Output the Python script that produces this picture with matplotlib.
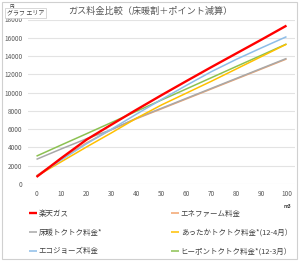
"""Gas price comparison chart (floor heating discount + point deduction)."""

import matplotlib
matplotlib.use("Agg")
import matplotlib.pyplot as plt
from matplotlib.patches import Rectangle

plt.rcParams["font.family"] = ["Noto Sans CJK JP", "DejaVu Sans"]

# ---------------------------------------------------------------------------
# Data (yen vs m3)
# ---------------------------------------------------------------------------
usage = [0, 10, 20, 30, 40, 50, 60, 70, 80, 90, 100]

rakuten = [770, 2850, 4850, 6500, 8130, 9720, 11270, 12800, 14300, 15800, 17330]
enefarm = [900, 2750, 4500, 5950, 7150, 8230, 9320, 10410, 11500, 12590, 13680]
yukadan = [2700, 3850, 4950, 5950, 7200, 8290, 9380, 10470, 11560, 12650, 13740]
attaka = [850, 2450, 4050, 5600, 7200, 8650, 9950, 11250, 12600, 13950, 15300]
ecojozu = [850, 2650, 4400, 6000, 7650, 9250, 10800, 12300, 13650, 14900, 16120]
hipon = [3050, 4280, 5500, 6730, 7960, 9190, 10410, 11640, 12870, 14090, 15320]

series = [
    ("楽天ガス", rakuten, "#FF0000", 1.7),
    ("エネファーム料金", enefarm, "#F2A46E", 1.1),
    ("床暖トクトク料金*", yukadan, "#A8A8A8", 1.1),
    ("あったかトクトク料金*(12-4月）", attaka, "#FFC000", 1.1),
    ("エコジョーズ料金", ecojozu, "#8DBDE8", 1.1),
    ("ヒーポントクトク料金*(12-3月）", hipon, "#8CC152", 1.1),
]

# ---------------------------------------------------------------------------
# Figure
# ---------------------------------------------------------------------------
fig = plt.figure(figsize=(3.0, 2.61), dpi=100)
ax = fig.add_axes([28 / 300, 1 - 184 / 261, 267 / 300, 164.5 / 261])

handles = {}
zorders = [6, 2, 3, 4, 5, 3.5]
for (label, vals, color, lw), z in zip(series, zorders):
    (h,) = ax.plot(usage, vals, color=color, linewidth=lw, label=label,
                   zorder=z, solid_capstyle="butt")
    handles[label] = h

ax.set_xlim(-3.4, 103.4)
ax.set_ylim(0, 18000)
ax.set_xticks(range(0, 101, 10))
ax.set_yticks(range(0, 18001, 2000))
ax.grid(axis="y", color="#E3E3E3", linewidth=0.8)
ax.set_axisbelow(True)
for s in ax.spines.values():
    s.set_visible(False)
ax.tick_params(length=0, labelsize=4.6, colors="#595959", pad=4)

fig.text(0.5, 1 - 11 / 261, "ガス料金比較（床暖割＋ポイント減算）",
         ha="center", va="center", fontsize=6.6, color="#595959")
fig.text(287 / 300, 1 - 206 / 261, "m3", ha="center", va="center",
         fontsize=3.5, color="#404040", fontweight="bold")

# legend in Excel row order -> matplotlib fills columns first
order = [0, 2, 4, 1, 3, 5]
labels = [series[i][0] for i in order]
leg = fig.legend([handles[l] for l in labels], labels, ncol=2,
                 loc="upper left", bbox_to_anchor=(22 / 300, 1 - 203 / 261),
                 frameon=False, fontsize=5.4, handlelength=1.1,
                 handletextpad=0.2, columnspacing=9.2, labelspacing=1.45,
                 labelcolor="#404040")

# chart area border
fig.patches.append(Rectangle((2 / 300, 2 / 261), 295 / 300, 257 / 261,
                             transform=fig.transFigure, fill=False,
                             edgecolor="#D0D0D0", linewidth=0.8))

# tooltip
fig.text(7 / 300, 1 - 13 / 261, "グラフ エリア", ha="left", va="center",
         fontsize=4.3, color="#404040",
         bbox=dict(boxstyle="square,pad=0.35", facecolor="white",
                   edgecolor="#C8C8C8", linewidth=0.5))
fig.text(10 / 300, 1 - 6 / 261, "円", ha="left", va="center",
         fontsize=3.2, color="#404040")

fig.savefig("out.png", dpi=100)
